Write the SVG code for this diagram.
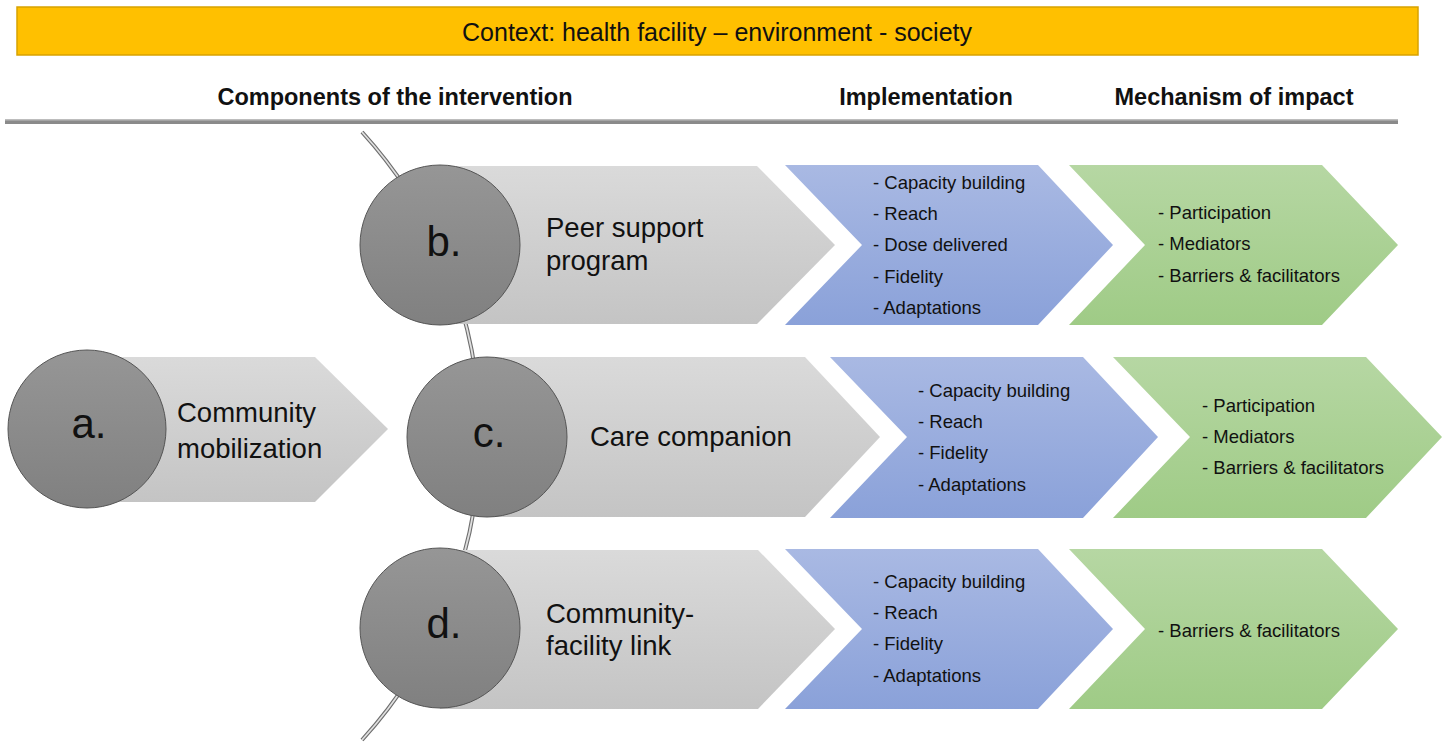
<svg xmlns="http://www.w3.org/2000/svg" width="1449" height="745" viewBox="0 0 1449 745">
<defs>
<linearGradient id="gGray" x1="0" y1="0" x2="0" y2="1"><stop offset="0" stop-color="#dadada"/><stop offset="1" stop-color="#c4c4c4"/></linearGradient>
<linearGradient id="gCirc" x1="0" y1="0" x2="0" y2="1"><stop offset="0" stop-color="#969696"/><stop offset="1" stop-color="#808080"/></linearGradient>
<linearGradient id="gBlue" x1="0" y1="0" x2="0" y2="1"><stop offset="0" stop-color="#a9b9e3"/><stop offset="1" stop-color="#8aa1d9"/></linearGradient>
<linearGradient id="gGreen" x1="0" y1="0" x2="0" y2="1"><stop offset="0" stop-color="#b6d7a3"/><stop offset="1" stop-color="#9fcb86"/></linearGradient>
<style>
.t{font-family:"Liberation Sans",Arial,sans-serif;fill:#111}
.hdr{font-size:23.5px;font-weight:bold}
.lst{font-size:18.5px}
.lbl{font-size:27.5px}
.let{font-size:42px;text-anchor:middle}
.gray{fill:url(#gGray)}
.circ{fill:url(#gCirc);stroke:#555;stroke-width:1}
.blue{fill:url(#gBlue)}
.green{fill:url(#gGreen)}
</style>
</defs>
<rect width="1449" height="745" fill="#fff"/>
<g id="banner">
<rect x="17" y="7" width="1401" height="48" fill="#FFC000" stroke="#d8a200" stroke-width="1.5"/>
<text class="t" x="717" y="41" font-size="25" text-anchor="middle">Context: health facility – environment - society</text>
</g>
<g id="headers">
<text class="t hdr" x="395" y="105" text-anchor="middle">Components of the intervention</text>
<text class="t hdr" x="926" y="105" text-anchor="middle">Implementation</text>
<text class="t hdr" x="1234" y="105" text-anchor="middle">Mechanism of impact</text>
<rect x="5" y="119" width="1393" height="5" fill="#8a8a8a"/>
<rect x="5" y="119" width="1393" height="1.5" fill="#bdbdbd"/>
</g>
<g id="connectors">
<path d="M362,132 A451,451 0 0 1 362,740" fill="none" stroke="#6e6e6e" stroke-width="4"/>
<path d="M362,132 A451,451 0 0 1 362,740" fill="none" stroke="#e0e0e0" stroke-width="1.8"/>
</g>
<g id="node-a">
<path class="gray" d="M90,357 L315,357 L388,429 L315,502 L90,502 Z"/>
<circle class="circ" cx="87" cy="429" r="79"/>
<text class="t let" x="89" y="438">a.</text>
<text class="t lbl" x="177" y="422">Community</text>
<text class="t lbl" x="177" y="458">mobilization</text>
</g>
<g id="node-b">
<path class="gray" d="M440,166 L757,166 L835,245 L757,324 L440,324 Z"/>
<circle class="circ" cx="440" cy="245" r="80"/>
<text class="t let" x="444" y="256">b.</text>
<text class="t lbl" x="546" y="237">Peer support</text>
<text class="t lbl" x="546" y="270">program</text>
</g>
<g id="node-c">
<path class="gray" d="M487,357 L805,357 L880,437 L805,517 L487,517 Z"/>
<circle class="circ" cx="487" cy="437" r="80"/>
<text class="t let" x="489" y="447">c.</text>
<text class="t lbl" x="590" y="446">Care companion</text>
</g>
<g id="node-d">
<path class="gray" d="M440,550 L758,550 L835,629 L758,709 L440,709 Z"/>
<circle class="circ" cx="440" cy="628" r="80"/>
<text class="t let" x="444" y="638">d.</text>
<text class="t lbl" x="546" y="623">Community-</text>
<text class="t lbl" x="546" y="655">facility link</text>
</g>
<g id="impl-b">
<path class="blue" d="M785,165 L1038,165 L1113,245 L1038,325 L785,325 L862,245 Z"/>
<text class="t lst" x="873" y="189">- Capacity building</text>
<text class="t lst" x="873" y="220">- Reach</text>
<text class="t lst" x="873" y="251">- Dose delivered</text>
<text class="t lst" x="873" y="283">- Fidelity</text>
<text class="t lst" x="873" y="314">- Adaptations</text>
</g>
<g id="mech-b">
<path class="green" d="M1069,165 L1322,165 L1398,245 L1322,325 L1069,325 L1145,245 Z"/>
<text class="t lst" x="1158" y="219">- Participation</text>
<text class="t lst" x="1158" y="250">- Mediators</text>
<text class="t lst" x="1158" y="282">- Barriers &amp; facilitators</text>
</g>
<g id="impl-c">
<path class="blue" d="M830,357 L1083,357 L1158,437 L1083,518 L830,518 L907,437 Z"/>
<text class="t lst" x="918" y="397">- Capacity building</text>
<text class="t lst" x="918" y="428">- Reach</text>
<text class="t lst" x="918" y="459">- Fidelity</text>
<text class="t lst" x="918" y="491">- Adaptations</text>
</g>
<g id="mech-c">
<path class="green" d="M1113,357 L1366,357 L1442,437 L1366,518 L1113,518 L1190,437 Z"/>
<text class="t lst" x="1202" y="412">- Participation</text>
<text class="t lst" x="1202" y="443">- Mediators</text>
<text class="t lst" x="1202" y="474">- Barriers &amp; facilitators</text>
</g>
<g id="impl-d">
<path class="blue" d="M785,549 L1038,549 L1113,629 L1038,709 L785,709 L862,629 Z"/>
<text class="t lst" x="873" y="588">- Capacity building</text>
<text class="t lst" x="873" y="619">- Reach</text>
<text class="t lst" x="873" y="650">- Fidelity</text>
<text class="t lst" x="873" y="682">- Adaptations</text>
</g>
<g id="mech-d">
<path class="green" d="M1069,549 L1322,549 L1398,629 L1322,709 L1069,709 L1145,629 Z"/>
<text class="t lst" x="1158" y="637">- Barriers &amp; facilitators</text>
</g>
</svg>
